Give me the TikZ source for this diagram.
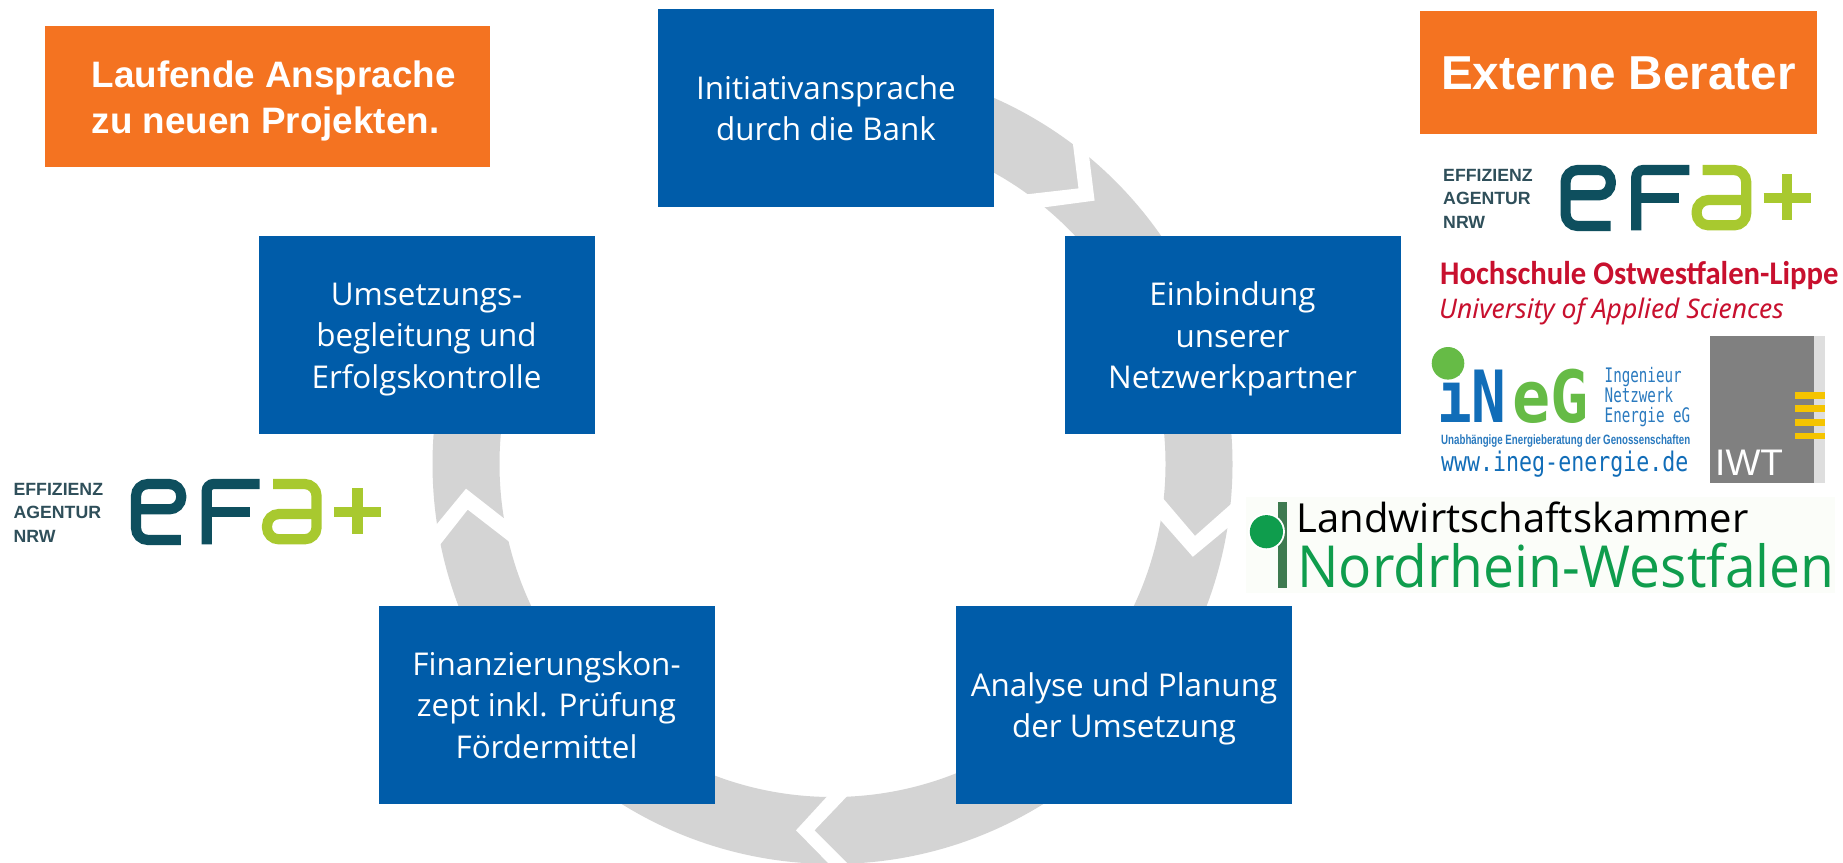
\documentclass[tikz,border=0pt]{standalone}
\usepackage{fontspec}
\usepackage{graphicx}
\setmainfont{Open Sans}
\newfontfamily\lsans{Liberation Sans}
\newfontfamily\dmono{DejaVu Sans Mono}
\newfontfamily\notos{Noto Sans}
\newfontfamily\carl{Carlito}
\definecolor{boxblue}{HTML}{005CA9}
\definecolor{orng}{HTML}{F47321}
\definecolor{ringgray}{HTML}{D4D4D4}
\definecolor{efadark}{HTML}{0E4F5E}
\definecolor{efagreen}{HTML}{A8C92F}
\definecolor{efatext}{HTML}{2F4F5A}
\definecolor{hsred}{HTML}{C8102E}
\definecolor{inegblue}{HTML}{116DB8}
\definecolor{inegtext}{HTML}{2A7ABF}
\definecolor{inegreen}{HTML}{66BB46}
\definecolor{lwkgreen}{HTML}{0F9D4D}
\definecolor{lwkdark}{HTML}{3E7A50}
\definecolor{iwtyellow}{HTML}{F5C400}
\definecolor{lwkbg}{HTML}{FBFDF9}
\newcommand\fsz[2]{\fontsize{#1}{#2}\selectfont}
\newcommand\sqz[2]{\scalebox{#1}[1]{#2}}
\newcommand\efalogo[3]{%
\begin{scope}[shift={(#1,#2)},x=0.335pt,y=-0.3333pt]
 \node[efalabel] (#3a) at (40,148) {EFFIZIENZ};
 \node[efalabel] (#3b) at (40,218) {AGENTUR};
 \node[efalabel] (#3c) at (40,288) {NRW};
 \draw[efastroke,efadark,rounded corners=12pt] (406,208) -- (541,208) -- (541,132) -- (406,132) -- (406,300) -- (540,300);
 \draw[efastroke,efadark,rounded corners=7pt] (775,132) -- (617,132) -- (617,313);
 \draw[efastroke,efadark] (617,215) -- (745,215);
 \draw[efastroke,efagreen,rounded corners=12pt] (815,132) -- (945,132) -- (945,298) -- (797,298) -- (797,222) -- (945,222);
 \draw[efastroke,efagreen] (1067,145) -- (1067,283);
 \draw[efastroke,efagreen] (997,215) -- (1137,215);
\end{scope}}
\tikzset{
 bluebox/.style={fill=boxblue,minimum width=336pt,minimum height=198pt,inner sep=0pt},
 boxtext/.style={text=white,inner sep=0pt,align=center,font=\fsz{31.4}{41.3}},
 orangebox/.style={fill=orng,inner sep=0pt},
 efalabel/.style={anchor=west,inner sep=0pt,text=efatext,font=\lsans\bfseries\fsz{17.7}{20}},
 efastroke/.style={line width=10.2pt,line cap=butt},
 logotxt/.style={anchor=base west,inner sep=0pt},
}
\begin{document}
\begin{tikzpicture}[x=1pt,y=-1pt]
\useasboundingbox (0,0) rectangle (1843,862);
\clip (0,0) rectangle (1843,862);
\fill[white] (0,0) rectangle (1843,862);
% ring
\coordinate (c) at (832.5,464);
\fill[ringgray,even odd rule] (c) circle[radius=400pt] (c) circle[radius=333pt];
\fill[white] (380,0) rectangle (658,236.5);
% notches
\fill[white] (1071.8,134.8) -- (1078.5,188.4) -- (1023.5,194.7) -- (1039.5,207.8) -- (1047.5,206.9) -- (1094.6,200.6) -- (1087.9,146.4) -- cycle;
\fill[white] (1160,494.8) -- (1195,535.9) -- (1237.8,498) -- (1234.4,522.3) -- (1192.8,556.8) -- (1156.6,515.7) -- cycle;
\fill[white] (833,790) -- (796,830.3) -- (835,870) -- (854,870) -- (814.5,830.3) -- (853,790) -- cycle;
\fill[white] (432,530) -- (466,488.7) -- (509.6,522.8) -- (514,545.4) -- (467.7,509.6) -- (436.3,549.5) -- cycle;
% process boxes
\node[bluebox] (init) at (826,108) {};
\node[boxtext] (initt) at (init.center) {Initiativansprache\\durch die Bank};
\node[bluebox] (einb) at (1232.5,335) {};
\node[boxtext] (einbt) at ([yshift=-4pt]einb.center) {Einbindung\\unserer\\Netzwerkpartner};
\node[bluebox] (anal) at (1124,705) {};
\node[boxtext] (analt) at ([yshift=-3.5pt]anal.center) {Analyse und Planung\\der Umsetzung};
\node[bluebox] (fin) at (546.5,705) {};
\node[boxtext] (fint) at (fin.center) {Finanzierungskon-\\zept inkl. Prüfung\\Fördermittel};
\node[bluebox] (ums) at (426.5,335) {};
\node[boxtext] (umst) at ([yshift=-4.5pt]ums.center) {Umsetzungs-\\begleitung und\\Erfolgskontrolle};
% orange boxes
\node[orangebox,minimum width=445.3pt,minimum height=140.6pt] (lauf) at (267.3,96.3) {};
\node[anchor=west,inner sep=0pt,text=white,align=left,font=\lsans\bfseries\fsz{36.8}{46}] (lauft) at ([xshift=47pt,yshift=-5pt]lauf.west) {Laufende Ansprache\\zu neuen Projekten.};
\node[orangebox,minimum width=396.8pt,minimum height=123pt] (ext) at (1618.4,72.5) {};
\node[inner sep=0pt,text=white,font=\lsans\bfseries\fsz{47.6}{50}] (extt) at ([yshift=-1pt]ext.center) {Externe Berater};
% efa logos
\efalogo{0}{440}{efl}
\efalogo{1429.6}{126}{efr}
% Hochschule
\node[logotxt,text=hsred,font=\carl\bfseries\fsz{33}{36}] (hs1) at (1440,284) {\sqz{0.93}{Hochschule Ostwestfalen-Lippe}};
\node[logotxt,text=hsred,font=\notos\itshape\fsz{27}{32}] (hs2) at (1439,318) {\sqz{0.98}{University of Applied Sciences}};
% iNeG
\node[logotxt,text=inegblue,font=\dmono\bfseries\fsz{72}{72}] (ineg1) at (1437,422.7) {\sqz{0.8}{iN}};
\node[logotxt,text=inegreen,font=\dmono\bfseries\fsz{72}{72}] (ineg2) at (1512,422.7) {\sqz{0.88}{eG}};
\fill[inegreen] (1448,363.3) circle[radius=16.3pt];
\node[logotxt,text=inegtext,font=\dmono\fsz{20}{22}] (ing1) at (1604.5,382.5) {\sqz{0.71}{Ingenieur}};
\node[logotxt,text=inegtext,font=\dmono\fsz{20}{22}] (ing2) at (1604.5,402.5) {\sqz{0.71}{Netzwerk}};
\node[logotxt,text=inegtext,font=\dmono\fsz{20}{22}] (ing3) at (1604.5,422.5) {\sqz{0.71}{Energie eG}};
\node[logotxt,text=inegtext,font=\lsans\bfseries\fsz{13.5}{14}] (ing4) at (1441,444) {\sqz{0.72}{Unabhängige Energieberatung der Genossenschaften}};
\node[logotxt,text=inegblue,font=\dmono\fsz{27}{28}] (ing5) at (1441,471) {\sqz{0.8}{www.ineg-energie.de}};
% IWT
\fill[black!50] (1710,336) rectangle (1814.4,482.7);
\fill[black!13] (1814.4,336) rectangle (1825,482.7);
\fill[iwtyellow] (1795,392.3) rectangle (1825,399);
\fill[iwtyellow] (1795,405) rectangle (1825,411.7);
\fill[iwtyellow] (1795,419) rectangle (1825,425.7);
\fill[iwtyellow] (1795,432.7) rectangle (1825,439.3);
\node[logotxt,text=white,font=\lsans\fsz{37}{40}] (iwt) at (1715,475) {IWT};
% Landwirtschaftskammer
\fill[lwkbg] (1245.6,496.7) rectangle (1835,593);
\fill[lwkdark] (1277.7,502.3) rectangle (1287,587.7);
\fill[white] (1266.4,531.7) circle[radius=18.5pt];
\fill[lwkgreen] (1266.4,531.7) circle[radius=16.6pt];
\node[logotxt,text=black,font=\fsz{40}{44}] (lwk1) at (1296.5,532.5) {Landwirtschaftskammer};
\node[logotxt,text=lwkgreen,font=\fsz{58}{60}] (lwk2) at (1297,587.5) {\sqz{0.95}{Nordrhein-Westfalen}};
\end{tikzpicture}
\end{document}
